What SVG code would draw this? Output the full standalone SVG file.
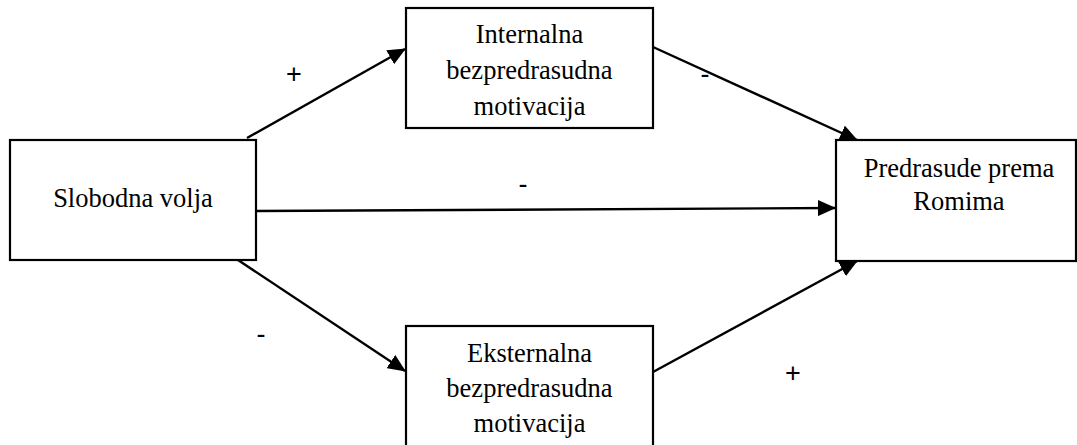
<svg xmlns="http://www.w3.org/2000/svg" width="1077" height="445" viewBox="0 0 1077 445">
<style>
.box{fill:#fff;stroke:#000;stroke-width:2.2}
.lbl{font-family:"Liberation Serif","Times New Roman",serif;font-size:26.5px;fill:#000;text-anchor:middle}
.sgn{font-family:"Liberation Sans",Arial,sans-serif;font-size:27px;fill:#000;text-anchor:middle}
.con{stroke:#000;stroke-width:2.4;fill:none;marker-end:url(#ah)}
</style>
<defs>
<marker id="ah" markerUnits="userSpaceOnUse" markerWidth="18" markerHeight="16" refX="17" refY="8" orient="auto">
<path d="M0,0 L18,8 L0,16 Z" fill="#000"/>
</marker>
</defs>
<rect width="1077" height="445" fill="#fff"/>
<g id="connectors">
<line class="con" x1="247" y1="138" x2="405" y2="49"/>
<line class="con" x1="653" y1="47" x2="857" y2="140"/>
<line class="con" x1="256" y1="211" x2="835" y2="208"/>
<line class="con" x1="238" y1="260" x2="405" y2="371"/>
<line class="con" x1="653" y1="372" x2="857" y2="261"/>
</g>
<g id="signs">
<text class="sgn" x="294" y="83">+</text>
<text class="sgn" x="705" y="83">-</text>
<text class="sgn" x="523" y="193">-</text>
<text class="sgn" x="261" y="343">-</text>
<text class="sgn" x="793" y="382">+</text>
</g>
<g id="slobodna">
<rect class="box" x="10" y="140" width="246" height="120"/>
<text class="lbl" x="133" y="207">Slobodna volja</text>
</g>
<g id="internalna">
<rect class="box" x="406" y="8" width="247" height="120"/>
<text class="lbl" x="529.5" y="43">Internalna</text>
<text class="lbl" x="529.5" y="79">bezpredrasudna</text>
<text class="lbl" x="529.5" y="115">motivacija</text>
</g>
<g id="predrasude">
<rect class="box" x="836" y="140" width="240" height="121"/>
<text class="lbl" x="959" y="177">Predrasude prema</text>
<text class="lbl" x="959" y="210">Romima</text>
</g>
<g id="eksternalna">
<rect class="box" x="406" y="326" width="247" height="130"/>
<text class="lbl" x="529.5" y="362">Eksternalna</text>
<text class="lbl" x="529.5" y="397">bezpredrasudna</text>
<text class="lbl" x="529.5" y="432">motivacija</text>
</g>
</svg>
